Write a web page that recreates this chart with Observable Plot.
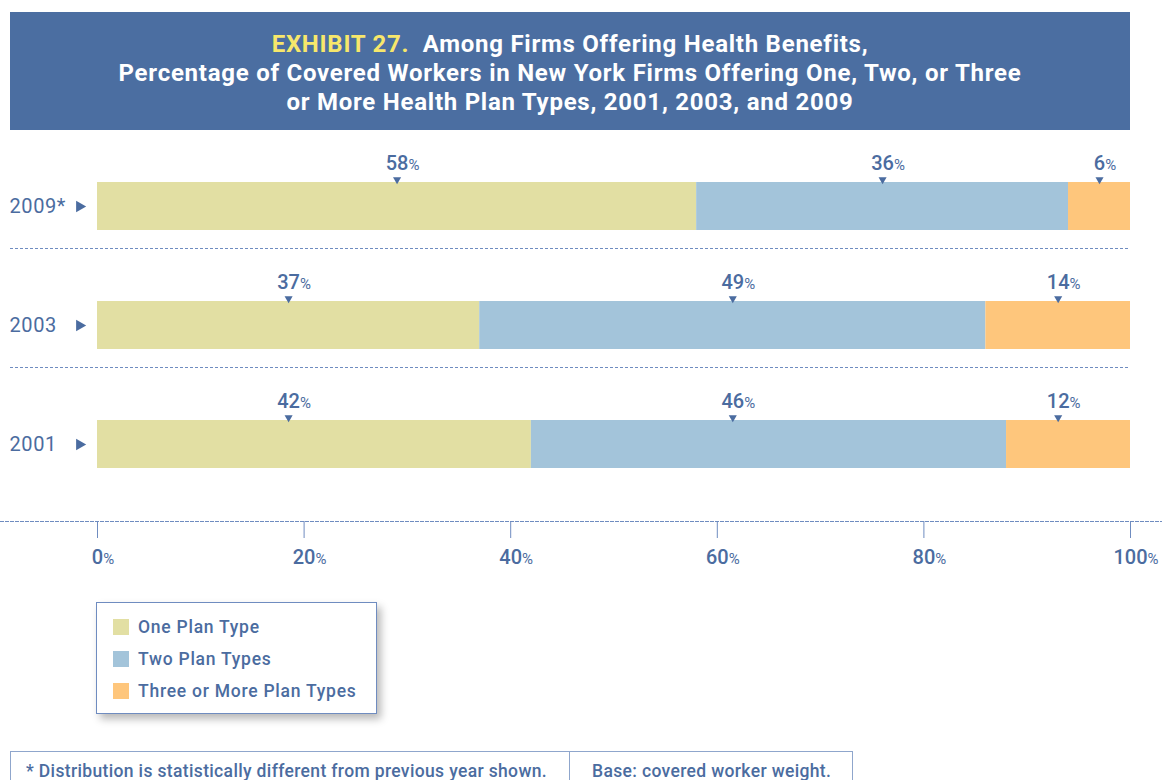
<!DOCTYPE html>
<html>
<head>
<meta charset="utf-8">
<script src="https://cdn.jsdelivr.net/npm/d3@7"></script>
<script src="https://cdn.jsdelivr.net/npm/@observablehq/plot@0.6"></script>
<style>
  html, body { margin: 0; padding: 0; background: #fff; }
  body { width: 1162px; height: 780px; overflow: hidden; font-family: Roboto, "Noto Sans", sans-serif; color: #4B6CA0; position: relative; }
  .title { position: absolute; left: 10px; top: 12px; width: 1120px; height: 118px; background: #4B6EA1; color: #fff;
    font-weight: 700; font-size: 24px; letter-spacing: 0.75px; line-height: 29px; text-align: center; box-sizing: border-box; padding-top: 18px; }
  .title .ex { color: #F7E76B; }
  #chart { position: absolute; left: 0; top: 140px; }
  .legend { position: absolute; left: 96px; top: 602px; width: 281px; height: 112px; box-sizing: border-box;
    border: 1px solid #6F8CC0; background: #fff; box-shadow: 4px 5px 8px rgba(0,0,0,0.28); }
  .legend .item { position: absolute; left: 16px; height: 20px; display: flex; align-items: center; font-size: 17.5px; font-weight: 500; letter-spacing: 0.75px; }
  .legend .sw { width: 16px; height: 16px; margin-right: 9px; }
  .footer { position: absolute; left: 10px; top: 751px; width: 843px; height: 40px; box-sizing: border-box;
    border: 1px solid #8FA6CC; display: flex; font-size: 17.5px; letter-spacing: 0.35px; font-weight: 500; }
  .footer div { padding-top: 9px; }
  .footer .f1 { width: 559px; box-sizing: border-box; border-right: 1px solid #8FA6CC; padding-left: 15px; }
  .footer .f2 { padding-left: 22px; }
</style>
</head>
<body>
<div class="title"><span class="ex">EXHIBIT 27.</span>&nbsp; Among Firms Offering Health Benefits,<br>Percentage of Covered Workers in New York Firms Offering One, Two, or Three<br>or More Health Plan Types, 2001, 2003, and 2009</div>
<div id="chart"></div>
<div class="legend" id="legend"></div>
<div class="footer"><div class="f1">* Distribution is statistically different from previous year shown.</div><div class="f2">Base: covered worker weight.</div></div>
<script>
const years = ["2009*", "2003", "2001"];
const categories = ["One Plan Type", "Two Plan Types", "Three or More Plan Types"];
const onePlan = [58, 37, 42];
const twoPlans = [36, 49, 46];
const threePlus = [6, 14, 12];
// in the original exhibit, the 2001 value labels sit at the same spots as the 2003 ones
const labelRowOf = ["2009*", "2003", "2003"];
const xTicks = [0, 20, 40, 60, 80, 100];
const colors = ["#E2DFA3", "#A3C4DA", "#FEC67C"];

const textColor = "#4B6CA0";
const lineColor = "#6F8CC0";

const series = [onePlan, twoPlans, threePlus];
const data = years.flatMap((year, i) => categories.map((type, j) => ({year, type, value: series[j][i]})));
// label anchors: stacked from the row whose segments the labels follow, shown in each row
const labels = years.flatMap((year, i) => {
  const k = years.indexOf(labelRowOf[i]);
  return categories.map((type, j) => ({year, type, value: series[j][i], place: series[j][k]}));
});

const plot = Plot.plot({
  width: 1162,
  height: 450,
  marginLeft: 97,
  marginRight: 32,
  marginTop: 0,
  marginBottom: 69,
  style: {fontFamily: "Roboto, 'Noto Sans', sans-serif", color: textColor, background: "transparent", overflow: "visible"},
  x: {domain: [0, 100]},
  y: {domain: years, range: [42, 328], paddingInner: 0.597, paddingOuter: 0, align: 0.5, axis: null},
  color: {domain: categories, range: colors},
  marks: [
    Plot.frame({anchor: "bottom", stroke: lineColor, strokeDasharray: "3,2", insetLeft: -97, insetRight: -32}),
    Plot.ruleY(years.slice(0, 2), {y: d => d, dy: 42, stroke: lineColor, strokeDasharray: "3,2", insetLeft: -87}),
    Plot.barX(data, Plot.stackX({x: "value", y: "year", z: "type", fill: "type", order: categories})),
    Plot.dot(labels, Plot.stackX({x: "place", y: "year", z: "type", order: categories, symbol: "triangle", rotate: 180, r: 3, fill: textColor, stroke: null, dy: -27})),
    Plot.text(labels, Plot.stackX({x: "place", y: "year", z: "type", order: categories, text: d => String(d.value), dy: -43, fontSize: 20, fontWeight: 500, fill: textColor, className: "pct"})),
    Plot.axisX({ticks: xTicks, tickSize: 17, tickPadding: 11, tickFormat: d => String(d), fontSize: 20, fontWeight: 500, stroke: lineColor, color: textColor, label: null}),
    Plot.text(years, {y: d => d, frameAnchor: "left", textAnchor: "start", dx: -88, fontSize: 20, letterSpacing: "0.6px", fill: textColor, className: "yrs"}),
    Plot.dot(years, {y: d => d, frameAnchor: "left", dx: -18, symbol: "triangle", rotate: 90, r: 4.3, fill: textColor, stroke: null})
  ]
});
document.getElementById("chart").appendChild(plot);

// smaller "%" appended after the centered number
function addPct(selection, size) {
  selection.each(function () {
    const w = this.getComputedTextLength();
    const t = d3.select(this);
    t.attr("text-anchor", "start").attr("dx", -w / 2);
    t.append("tspan").attr("font-size", size).attr("font-weight", 400).text("%");
  });
}
const svg = d3.select(plot);
svg.selectAll("g.yrs text").style("letter-spacing", "0.6px");
addPct(svg.selectAll("g.pct text"), 15);
addPct(svg.selectAll('g[aria-label="x-axis tick label"] text'), 15);

// legend
const legend = d3.select("#legend");
categories.forEach((c, i) => {
  const item = legend.append("div").attr("class", "item").style("top", (14 + i * 32) + "px");
  item.append("div").attr("class", "sw").style("background", colors[i]);
  item.append("span").text(c);
});
</script>
</body>
</html>
